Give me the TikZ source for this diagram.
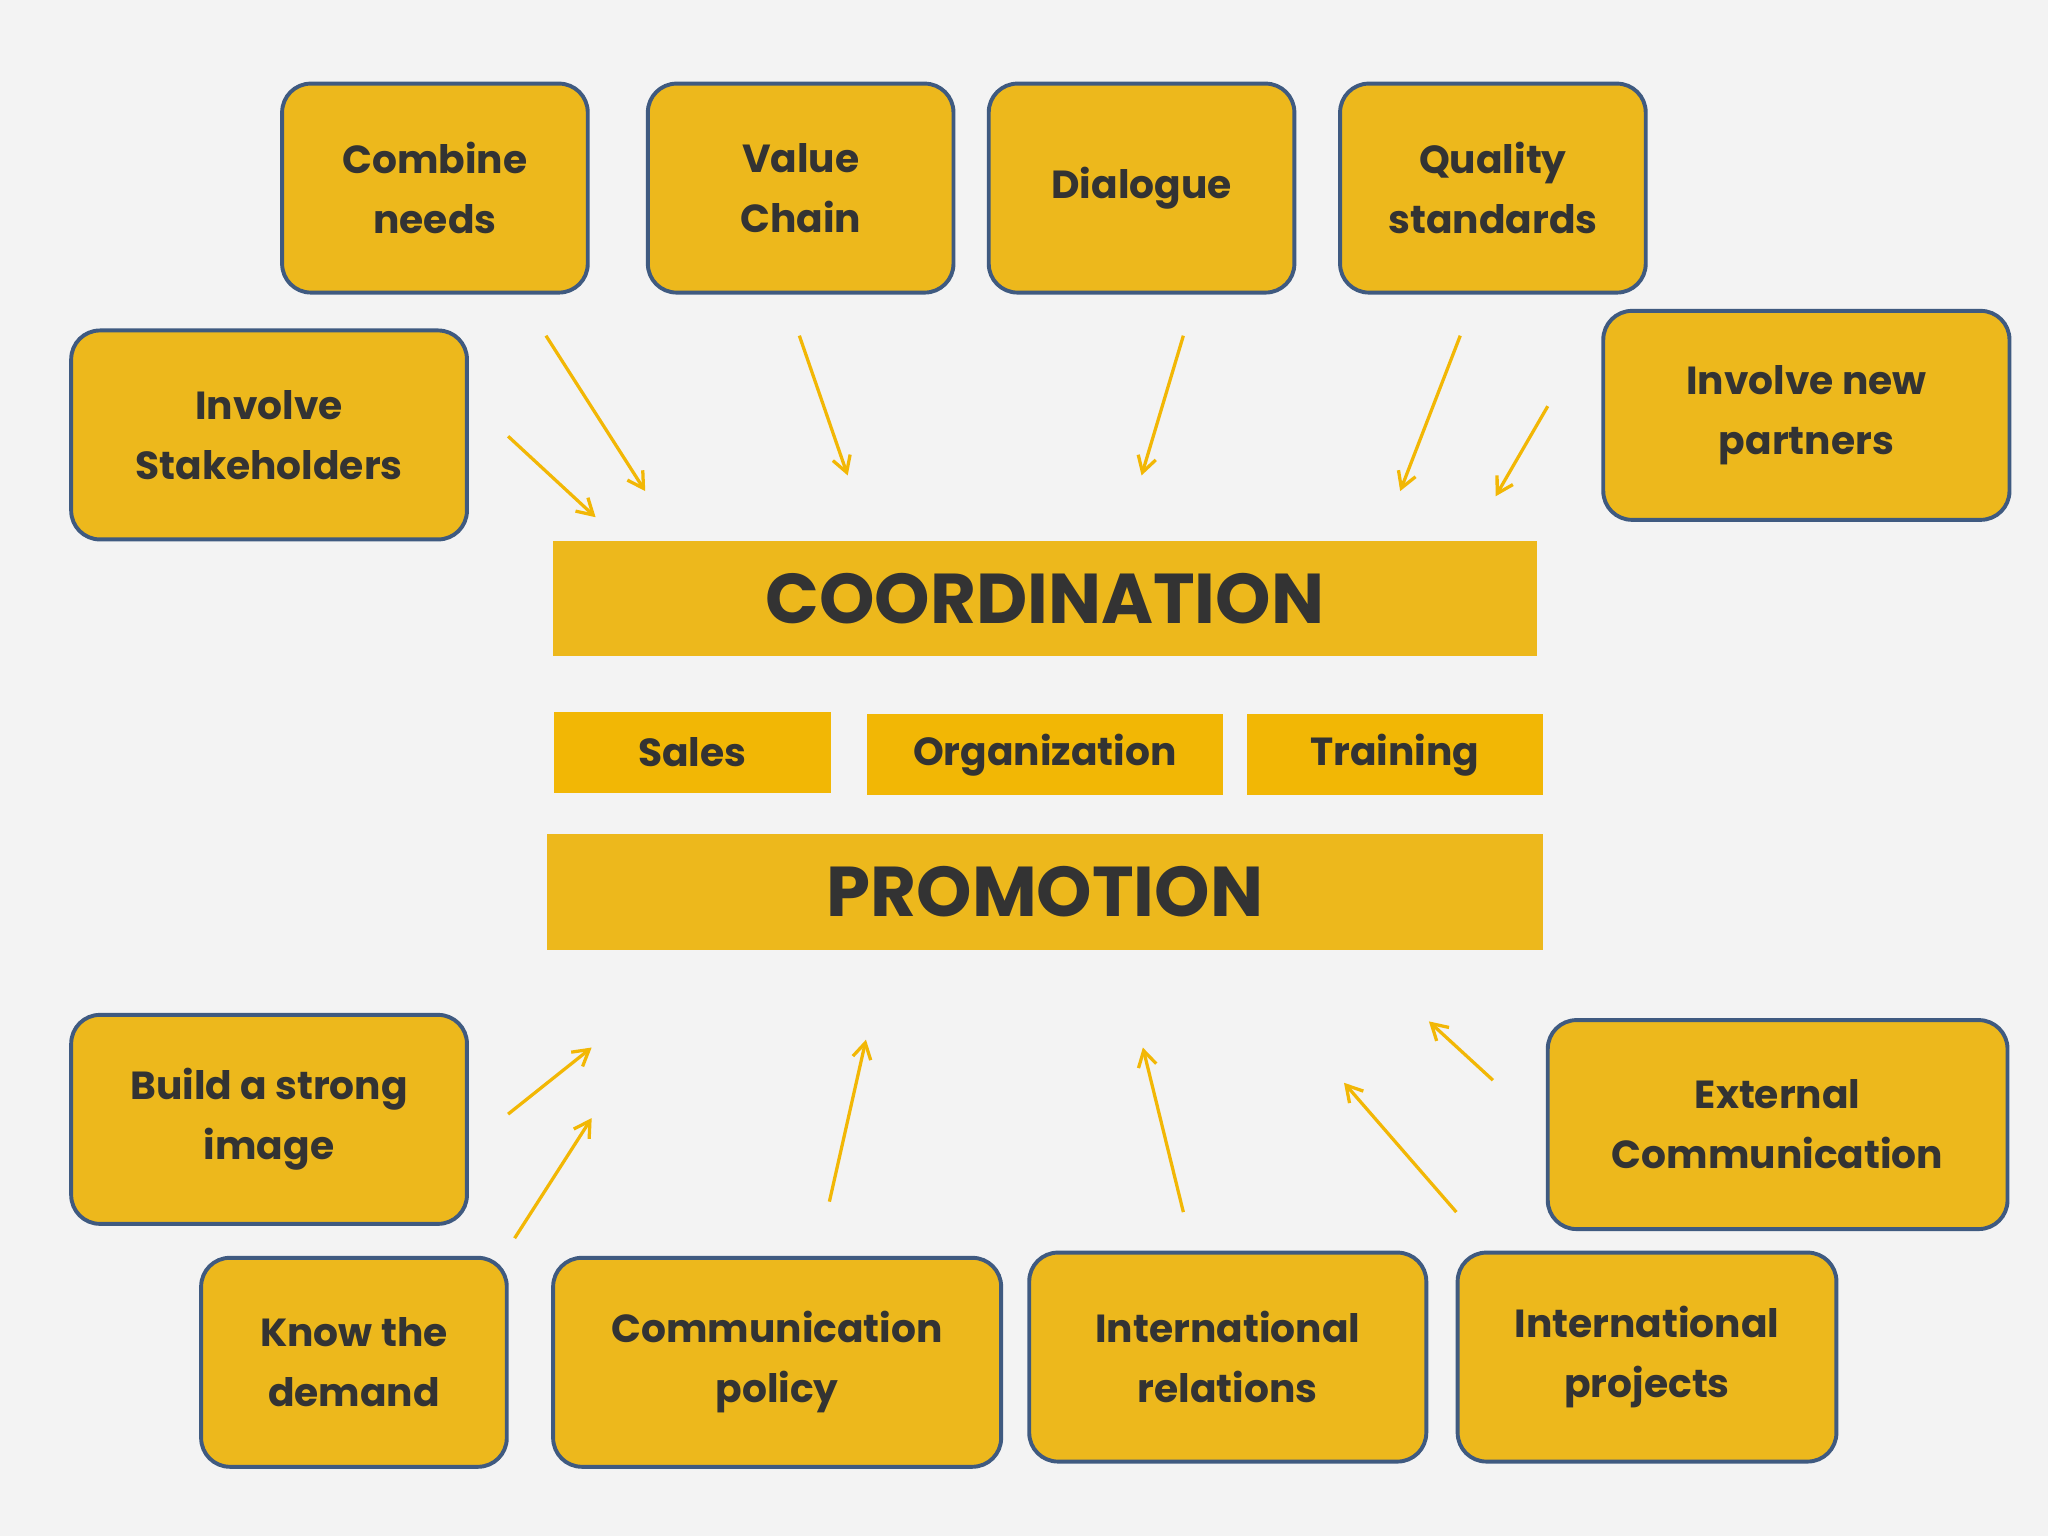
\documentclass[tikz,border=0pt]{standalone}
\usepackage{fontspec}
\setmainfont{Poppins}
\usetikzlibrary{arrows.meta}
\definecolor{bg}{HTML}{F3F3F3}
\definecolor{yel}{HTML}{EDB81C}
\definecolor{yelb}{HTML}{F2B705}
\definecolor{bord}{HTML}{3F5A80}
\definecolor{txt}{HTML}{333333}
\tikzset{
  idea/.style={draw=bord,line width=3pt,rounded corners=22pt,fill=yel,text=txt,
    font=\fontsize{30}{46}\selectfont\bfseries,align=center,inner sep=0pt},
  band/.style={fill=yel,text=txt,inner sep=0pt,font=\fontsize{54}{60}\selectfont\bfseries},
  sub/.style={fill=yelb,text=txt,inner sep=0pt,font=\fontsize{30}{36}\selectfont\bfseries},
  arr/.style={draw=yelb,line width=2.5pt,-{Straight Barb[length=12pt,width=14pt,line width=2.5pt]}}
}
\begin{document}
\begin{tikzpicture}[x=1pt,y=-1pt]
\fill[bg] (0,0) rectangle (1568,1176);
\useasboundingbox (0,0) rectangle (1568,1176);
\node[idea,minimum width=234pt,minimum height=160pt] (cn) at (333,144) {Combine\\needs};
\node[idea,minimum width=234pt,minimum height=160pt] (vc) at (613,144) {Value\\Chain};
\node[idea,minimum width=234pt,minimum height=160pt] (dl) at (874,144) {Dialogue};
\node[idea,minimum width=234pt,minimum height=160pt] (qs) at (1143,144) {Quality\\standards};
\node[idea,minimum width=303pt,minimum height=160pt] (is) at (206,333) {Involve\\Stakeholders};
\node[idea,minimum width=311pt,minimum height=160pt] (np) at (1383,318) {Involve new\\partners};
\node[band,minimum width=753pt,minimum height=88pt] (co) at (800,458) {COORDINATION};
\node[sub,minimum width=212pt,minimum height=62pt] (sa) at (530,576) {Sales};
\node[sub,minimum width=272pt,minimum height=62pt] (or) at (800,578) {Organization};
\node[sub,minimum width=226pt,minimum height=62pt] (tr) at (1068,578) {Training};
\node[band,minimum width=763pt,minimum height=89pt] (pr) at (800,683) {PROMOTION};
\node[idea,minimum width=303pt,minimum height=160pt] (bi) at (206,857) {Build a strong\\image};
\node[idea,minimum width=352pt,minimum height=160pt] (ec) at (1361,861) {External\\Communication};
\node[idea,minimum width=234pt,minimum height=160pt] (kd) at (271,1043) {Know the\\demand};
\node[idea,minimum width=343pt,minimum height=160pt] (cp) at (595,1043) {Communication\\policy};
\node[idea,minimum width=304pt,minimum height=160pt] (ir) at (940,1039) {International\\relations};
\node[idea,minimum width=290pt,minimum height=160pt] (ip) at (1261,1039) {International\\projects};
% arrow endpoints
\coordinate (a1s) at (418,257); \coordinate (a1e) at (494,376);
\coordinate (a2s) at (612,257); \coordinate (a2e) at (649,364);
\coordinate (a3s) at (906,257); \coordinate (a3e) at (874,364);
\coordinate (a4s) at (1118,257); \coordinate (a4e) at (1072,376);
\coordinate (a5s) at (1185,311); \coordinate (a5e) at (1145,380);
\coordinate (a6s) at (389,334); \coordinate (a6e) at (456,396);
\coordinate (b1s) at (389,853); \coordinate (b1e) at (453,802);
\coordinate (b2s) at (394,948); \coordinate (b2e) at (453,856);
\coordinate (b3s) at (635,920); \coordinate (b3e) at (663,796);
\coordinate (b4s) at (906,928); \coordinate (b4e) at (875,802);
\coordinate (b5s) at (1115,928); \coordinate (b5e) at (1029,829);
\coordinate (b6s) at (1143,827); \coordinate (b6e) at (1094,782);
\foreach \p in {a1,a2,a3,a4,a5,a6,b1,b2,b3,b4,b5,b6}{\draw[arr] (\p s) -- (\p e);}
\end{tikzpicture}
\end{document}
